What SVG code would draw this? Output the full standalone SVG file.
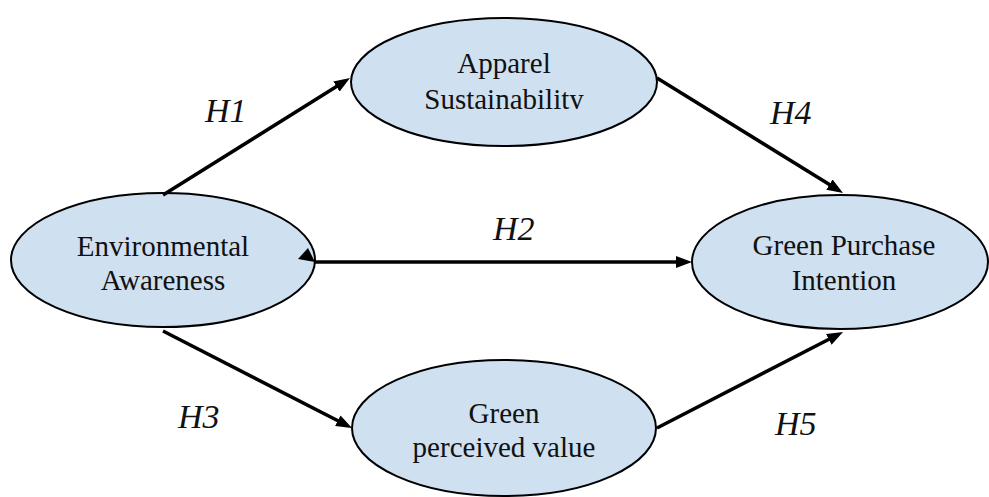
<svg xmlns="http://www.w3.org/2000/svg" width="989" height="497" viewBox="0 0 989 497">
  <style>
    .node { fill: #cfe0f1; stroke: #000; stroke-width: 2; }
    .lbl { font-family: 'Liberation Serif', 'DejaVu Serif', serif; font-size: 29px; fill: #111; text-anchor: middle; }
    .hyp { font-family: 'Liberation Serif', 'DejaVu Serif', serif; font-size: 34px; font-style: italic; fill: #111; }
    .edge { stroke: #000; stroke-width: 3.5; fill: none; marker-end: url(#arrow); }
  </style>
  <defs>
    <marker id="arrow" viewBox="0 0 16 12" refX="10" refY="6" markerWidth="16" markerHeight="12" markerUnits="userSpaceOnUse" orient="auto">
      <path d="M0,0 L16,6 L0,12 z" fill="#000"/>
    </marker>
    <clipPath id="clipAS">
      <rect x="340" y="0" width="330" height="109"/>
    </clipPath>
  </defs>
  <rect width="989" height="497" fill="#fff"/>

  <g id="node-environmental-awareness">
    <ellipse class="node" cx="163" cy="260" rx="152" ry="67"/>
    <text class="lbl" x="163" y="256">Environmental</text>
    <text class="lbl" x="163" y="290">Awareness</text>
  </g>
  <g id="node-apparel-sustainability">
    <ellipse class="node" cx="504" cy="82" rx="153" ry="64"/>
    <text class="lbl" x="504" y="73">Apparel</text>
    <text class="lbl" x="504" y="109" clip-path="url(#clipAS)">Sustainability</text>
  </g>
  <g id="node-green-purchase-intention">
    <ellipse class="node" cx="840" cy="262" rx="148" ry="67"/>
    <text class="lbl" x="844" y="255">Green Purchase</text>
    <text class="lbl" x="844" y="290">Intention</text>
  </g>
  <g id="node-green-perceived-value">
    <ellipse class="node" cx="504" cy="428" rx="152" ry="68"/>
    <text class="lbl" x="504" y="423">Green</text>
    <text class="lbl" x="504" y="457">perceived value</text>
  </g>

  <g id="connectors">
    <line class="edge" x1="163" y1="195" x2="344.9" y2="81.2"/>
    <line class="edge" x1="657" y1="78" x2="837.9" y2="189.8"/>
    <line class="edge" x1="315" y1="262" x2="686" y2="262"/>
    <line class="edge" x1="163" y1="331" x2="346.7" y2="425.3"/>
    <line class="edge" x1="657" y1="428" x2="837.7" y2="334.8"/>
    <polygon points="308,248 298,259 315,262" fill="#000"/>
  </g>

  <g id="labels">
    <text class="hyp" x="205" y="122">H1</text>
    <text class="hyp" x="493" y="240">H2</text>
    <text class="hyp" x="178" y="428">H3</text>
    <text class="hyp" x="770" y="124">H4</text>
    <text class="hyp" x="775" y="435">H5</text>
  </g>
</svg>
